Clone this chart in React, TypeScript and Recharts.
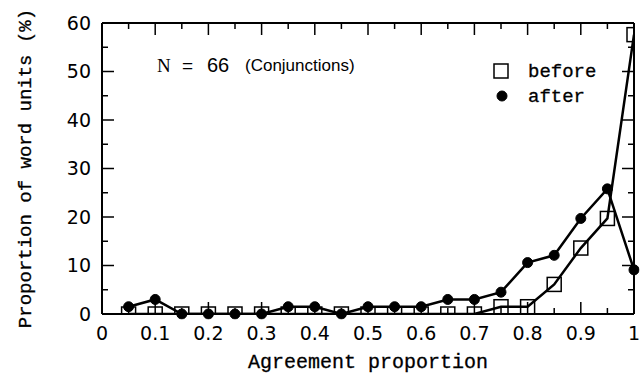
import React from 'react';
import { LineChart, Line, XAxis, YAxis, Legend } from 'recharts';

// Agreement proportion (x categories)
const agreement = [0.05, 0.1, 0.15, 0.2, 0.25, 0.3, 0.35, 0.4, 0.45, 0.5, 0.55, 0.6, 0.65, 0.7, 0.75, 0.8, 0.85, 0.9, 0.95, 1.0];
// Proportion of word units (%)
const before = [0, 0, 0, 0, 0, 0, 0, 0, 0, 0, 0, 0, 0, 0, 1.5, 1.5, 6.1, 13.6, 19.7, 57.6];
const after = [1.5, 3.0, 0, 0, 0, 0, 1.5, 1.5, 0, 1.5, 1.5, 1.5, 3.0, 3.0, 4.5, 10.6, 12.1, 19.7, 25.8, 9.1];

const xTicks = [0, 0.05, 0.1, 0.15, 0.2, 0.25, 0.3, 0.35, 0.4, 0.45, 0.5, 0.55, 0.6, 0.65, 0.7, 0.75, 0.8, 0.85, 0.9, 0.95, 1];
const yTicks = [0, 5, 10, 15, 20, 25, 30, 35, 40, 45, 50, 55, 60];

const seriesNames = ['before', 'after'];
const annotationN = 'N';
const annotationEq = '=';
const annotationCount = '66';
const annotationGroup = '(Conjunctions)';
const xLabel = 'Agreement proportion';
const yLabel = 'Proportion of word units (%)';

const rows = agreement.map((x, i) => ({ x, before: before[i], after: after[i] }));

const MONO = '"Liberation Mono", "Courier New", monospace';
const TICKFONT = '"DejaVu Sans", sans-serif';
const MAJOR = 12;
const MINOR = 6;
const monoStyle = { fontFamily: MONO, fill: '#000', stroke: '#000', strokeWidth: 0.3 };

const isMajorX = (v: number) => Math.round(v * 100) % 10 === 0;
const isMajorY = (v: number) => Math.round(v) % 10 === 0;
const fmtX = (v: number) => (v === 0 ? '0' : v === 1 ? '1' : v.toFixed(1));

const BottomTick = (props: any) => {
  const { x, y, payload } = props;
  const v = payload.value;
  const major = isMajorX(v);
  return (
    <g>
      <line x1={x} y1={y} x2={x} y2={y - (major ? MAJOR : MINOR)} stroke="#000" strokeWidth={1.5} />
      {major && (
        <text x={x} y={y + 25.5} textAnchor="middle" fontFamily={TICKFONT} fontSize={19} fill="#000">
          {fmtX(v)}
        </text>
      )}
    </g>
  );
};

const TopTick = (props: any) => {
  const { x, y, payload } = props;
  const major = isMajorX(payload.value);
  return <line x1={x} y1={y} x2={x} y2={y + (major ? MAJOR : MINOR)} stroke="#000" strokeWidth={1.5} />;
};

const LeftTick = (props: any) => {
  const { x, y, payload } = props;
  const v = payload.value;
  const major = isMajorY(v);
  return (
    <g>
      <line x1={x} y1={y} x2={x + (major ? MAJOR : MINOR)} y2={y} stroke="#000" strokeWidth={1.5} />
      {major && (
        <text x={x - 11} y={y} dy="0.36em" textAnchor="end" fontFamily={TICKFONT} fontSize={19} fill="#000">
          {String(v)}
        </text>
      )}
    </g>
  );
};

const RightTick = (props: any) => {
  const { x, y, payload } = props;
  const major = isMajorY(payload.value);
  return <line x1={x} y1={y} x2={x - (major ? MAJOR : MINOR)} y2={y} stroke="#000" strokeWidth={1.5} />;
};

const SquareDot = (props: any) => {
  const { cx, cy, index } = props;
  if (cx == null || cy == null) return <g key={`sq-${index}`} />;
  return <rect key={`sq-${index}`} x={cx - 7} y={cy - 7} width={14} height={14} fill="none" stroke="#000" strokeWidth={1.5} />;
};

const YLabel = (props: any) => {
  const vb = props.viewBox || {};
  const cy = vb.y != null && vb.height != null ? vb.y + vb.height / 2 : 168;
  const lx = 31;
  return (
    <text x={lx} y={cy} transform={`rotate(-90 ${lx} ${cy})`} textAnchor="middle" fontSize={19} style={monoStyle}>
      {yLabel}
    </text>
  );
};

const renderLegend = (props: any) => {
  const payload = [...(props.payload || [])].sort(
    (a: any, b: any) => seriesNames.indexOf(a.value) - seriesNames.indexOf(b.value)
  );
  return (
    <svg width={130} height={50} style={{ display: 'block', overflow: 'visible' }}>
      {payload.map((p: any, i: number) => {
        const cy = i === 0 ? 11 : 36;
        const baseline = i === 0 ? 17 : 41.5;
        return (
          <g key={p.value}>
            {p.value === 'before' ? (
              <rect x={16 - 7} y={cy - 7} width={14} height={14} fill="none" stroke="#000" strokeWidth={1.5} />
            ) : (
              <circle cx={17} cy={cy} r={5} fill="#000" stroke="#000" strokeWidth={1} />
            )}
            <text x={43} y={baseline} fontSize={19} style={monoStyle}>
              {p.value}
            </text>
          </g>
        );
      })}
    </svg>
  );
};

export default function App() {
  return (
    <div style={{ position: 'absolute', left: 0, top: 0, width: 641, height: 378, background: '#fff' }}>
      <LineChart width={641} height={378} data={rows} margin={{ top: 0, right: 0, bottom: 0, left: 0 }}>
        <XAxis
          xAxisId="b"
          dataKey="x"
          type="number"
          orientation="bottom"
          domain={[0, 1]}
          allowDataOverflow
          ticks={xTicks}
          interval={0}
          height={64}
          tickSize={0}
          tickMargin={0}
          tickLine={false}
          axisLine={{ stroke: '#000', strokeWidth: 2 }}
          tick={BottomTick}
          label={{ value: xLabel, position: 'insideBottom', offset: 10, fontSize: 20, style: monoStyle }}
        />
        <XAxis
          xAxisId="t"
          dataKey="x"
          type="number"
          orientation="top"
          domain={[0, 1]}
          allowDataOverflow
          ticks={xTicks}
          interval={0}
          height={23}
          tickSize={0}
          tickMargin={0}
          tickLine={false}
          axisLine={{ stroke: '#000', strokeWidth: 2 }}
          tick={TopTick}
        />
        <YAxis
          yAxisId="l"
          type="number"
          orientation="left"
          domain={[0, 60]}
          allowDataOverflow
          ticks={yTicks}
          interval={0}
          width={102}
          tickSize={0}
          tickMargin={0}
          tickLine={false}
          axisLine={{ stroke: '#000', strokeWidth: 2 }}
          tick={LeftTick}
          label={{ content: YLabel }}
        />
        <YAxis
          yAxisId="r"
          dataKey="after"
          type="number"
          orientation="right"
          domain={[0, 60]}
          allowDataOverflow
          ticks={yTicks}
          interval={0}
          width={7}
          tickSize={0}
          tickMargin={0}
          tickLine={false}
          axisLine={{ stroke: '#000', strokeWidth: 2 }}
          tick={RightTick}
        />
        <Line
          xAxisId="b"
          yAxisId="l"
          dataKey="before"
          name={seriesNames[0]}
          type="linear"
          stroke="#000"
          strokeWidth={2.5}
          dot={SquareDot}
          activeDot={false}
          isAnimationActive={false}
        />
        <Line
          xAxisId="b"
          yAxisId="l"
          dataKey="after"
          name={seriesNames[1]}
          type="linear"
          stroke="#000"
          strokeWidth={2.5}
          dot={{ r: 5, fill: '#000', stroke: '#000', strokeWidth: 1, clipDot: false }}
          activeDot={false}
          isAnimationActive={false}
        />
        <Legend
          layout="vertical"
          align="center"
          verticalAlign="middle"
          content={renderLegend}
          wrapperStyle={{ left: 485, top: 60, width: 130, height: 50 }}
        />
      </LineChart>
      <svg width={641} height={378} style={{ position: 'absolute', left: 0, top: 0, pointerEvents: 'none' }}>
        <text x={157} y={72} fontFamily='"Liberation Serif", serif' fontSize={19} fill="#000">{annotationN}</text>
        <text x={182} y={72} fontFamily='"Liberation Sans", sans-serif' fontSize={19} fill="#000">{annotationEq}</text>
        <text x={207} y={72} fontFamily='"Liberation Sans", sans-serif' fontSize={20} fill="#000">{annotationCount}</text>
        <text x={245} y={71} fontFamily='"Liberation Sans", sans-serif' fontSize={17} fill="#000">{annotationGroup}</text>
      </svg>
    </div>
  );
}
